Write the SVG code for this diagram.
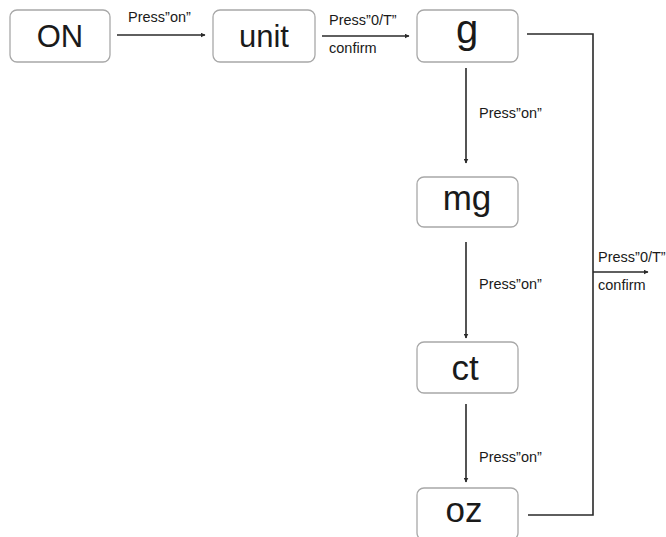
<svg xmlns="http://www.w3.org/2000/svg" width="666" height="537" viewBox="0 0 666 537">
<defs>
<style>
.box{fill:#fff;stroke:#a8a8a8;stroke-width:1.3}
.nt{font-family:"Liberation Sans",Arial,sans-serif;font-size:31px;fill:#1a1a1a;text-anchor:middle}
.lb{font-family:"Liberation Sans",Arial,sans-serif;font-size:14.5px;fill:#1a1a1a}
.ln{fill:none;stroke:#2a2a2a;stroke-width:1.6}
</style>
<marker id="ah" viewBox="0 0 10 10" refX="9" refY="5" markerWidth="5" markerHeight="5" orient="auto" markerUnits="userSpaceOnUse">
<path d="M0,0 L10,5 L0,10 z" fill="#2a2a2a"/>
</marker>
</defs>
<rect width="666" height="537" fill="#fff"/>
<g id="connectors">
<line class="ln" x1="117" y1="35" x2="205" y2="35" marker-end="url(#ah)"/>
<line class="ln" x1="322" y1="36" x2="409" y2="36" marker-end="url(#ah)"/>
<line class="ln" x1="466" y1="68" x2="466" y2="163" marker-end="url(#ah)"/>
<line class="ln" x1="466" y1="242" x2="466" y2="338" marker-end="url(#ah)"/>
<line class="ln" x1="466" y1="404" x2="466" y2="482" marker-end="url(#ah)"/>
<polyline class="ln" points="527,34 593,34 593,515 528,515"/>
<line class="ln" x1="593" y1="272" x2="648" y2="272" marker-end="url(#ah)"/>
<text class="lb" x="128" y="22">Press”on”</text>
<text class="lb" x="329" y="25">Press”0/T”</text>
<text class="lb" x="329" y="53">confirm</text>
<text class="lb" x="479" y="118">Press”on”</text>
<text class="lb" x="479" y="289">Press”on”</text>
<text class="lb" x="479" y="462">Press”on”</text>
<text class="lb" x="598" y="262">Press”0/T”</text>
<text class="lb" x="598" y="290">confirm</text>
</g>
<g id="node-on">
<rect class="box" x="10" y="10" width="100" height="52" rx="7"/>
<text class="nt" x="60" y="47">ON</text>
</g>
<g id="node-unit">
<rect class="box" x="213" y="10" width="102" height="52" rx="7"/>
<text class="nt" x="264" y="47">unit</text>
</g>
<g id="node-g">
<rect class="box" x="417" y="10" width="101" height="52" rx="7"/>
<text class="nt" x="467" y="43" style="font-size:40px">g</text>
</g>
<g id="node-mg">
<rect class="box" x="417" y="177" width="101" height="50" rx="7"/>
<text class="nt" x="467" y="210" style="font-size:35px">mg</text>
</g>
<g id="node-ct">
<rect class="box" x="417" y="342" width="101" height="51" rx="7"/>
<text class="nt" x="465" y="380" style="font-size:35px">ct</text>
</g>
<g id="node-oz">
<rect class="box" x="417" y="488" width="101" height="52" rx="7"/>
<text class="nt" x="464" y="522" style="font-size:35px">oz</text>
</g>
</svg>
